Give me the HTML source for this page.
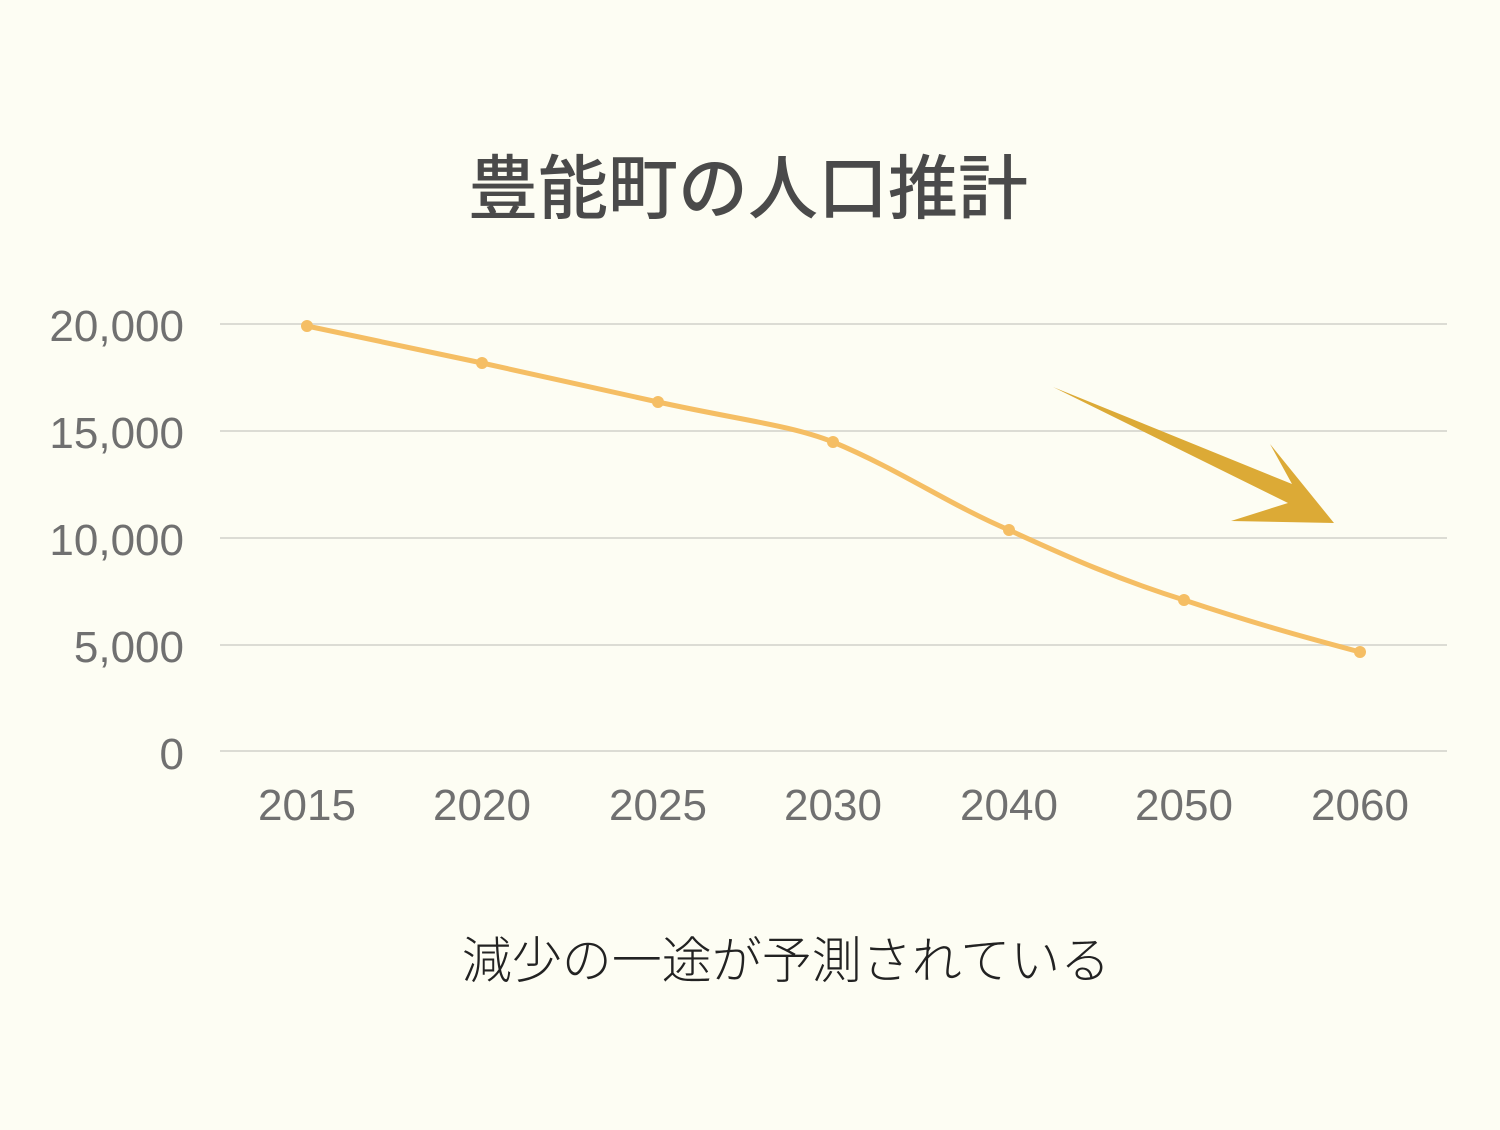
<!DOCTYPE html>
<html><head><meta charset="utf-8"><style>
html,body{margin:0;padding:0;background:#fdfdf3;}
body{width:1500px;height:1125px;overflow:hidden;}
svg text{font-family:"Liberation Sans","Noto Sans CJK JP",sans-serif;}
</style></head><body>
<svg width="1500" height="1125" viewBox="0 0 1500 1125" xmlns="http://www.w3.org/2000/svg">
<rect width="1500" height="1125" fill="#fdfdf3"/>
<text x="748" y="213" text-anchor="middle" font-size="70" fill="#4a4a4a" style="font-family:'Noto Sans CJK JP',sans-serif;font-weight:500">豊能町の人口推計</text>
<g stroke="#dcdcd4" stroke-width="2">
<line x1="220" y1="324" x2="1447" y2="324"/>
<line x1="220" y1="431" x2="1447" y2="431"/>
<line x1="220" y1="538" x2="1447" y2="538"/>
<line x1="220" y1="645" x2="1447" y2="645"/>
<line x1="220" y1="751" x2="1447" y2="751"/>
</g>
<g font-size="44" fill="#707070" text-anchor="end">
<text x="184" y="341">20,000</text>
<text x="184" y="448">15,000</text>
<text x="184" y="555">10,000</text>
<text x="184" y="662">5,000</text>
<text x="184" y="769">0</text>
</g>
<g font-size="44" fill="#707070" text-anchor="middle">
<text x="307" y="820">2015</text>
<text x="482" y="820">2020</text>
<text x="658" y="820">2025</text>
<text x="833" y="820">2030</text>
<text x="1009" y="820">2040</text>
<text x="1184" y="820">2050</text>
<text x="1360" y="820">2060</text>
</g>
<path d="M307,326 L482,363 L658,402 C740,420 790,425 833,442 C900,470 950,505 1009,530 C1070,558 1120,580 1184,600 C1250,622 1300,636 1360,652" fill="none" stroke="#f5be64" stroke-width="5" stroke-linejoin="round"/>
<g fill="#f5be64">
<circle cx="307" cy="326" r="6"/><circle cx="482" cy="363" r="6"/><circle cx="658" cy="402" r="6"/><circle cx="833" cy="442" r="6"/><circle cx="1009" cy="530" r="6"/><circle cx="1184" cy="600" r="6"/><circle cx="1360" cy="652" r="6"/>
</g>
<polygon points="1053,387 1292,484 1270,444 1334,523 1231,521 1288,503" fill="#dcaa36"/>
<text x="786" y="978" text-anchor="middle" font-size="50" fill="#222" style="font-family:'Noto Sans CJK JP',sans-serif;font-weight:300">減少の一途が予測されている</text>
</svg>
</body></html>
